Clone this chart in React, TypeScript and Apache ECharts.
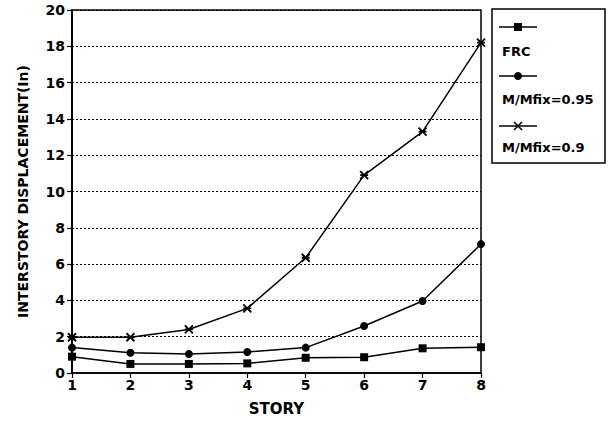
import React, { useEffect, useRef } from "react";
import * as echarts from "echarts";

const stories = [1, 2, 3, 4, 5, 6, 7, 8];
const frc = [0.9, 0.5, 0.5, 0.53, 0.84, 0.87, 1.36, 1.42];
const m095 = [1.4, 1.12, 1.05, 1.16, 1.4, 2.59, 3.97, 7.1];
const m09 = [1.97, 1.97, 2.4, 3.56, 6.35, 10.9, 13.3, 18.2];
const seriesNames = ["FRC", "M/Mfix=0.95", "M/Mfix=0.9"];
const yMin = 0;
const yMax = 20;
const yStep = 2;

const FONT = "DejaVu Sans";
const STAR = "path://M0,0L10,10M10,0L0,10M0,5L10,5";

export default function App() {
  const ref = useRef<HTMLDivElement>(null);
  useEffect(() => {
    if (!ref.current) return;
    const chart = echarts.init(ref.current, null, { renderer: "svg" });
    const pairs = (vals: number[]) => stories.map((s, i) => [s, vals[i]]);
    const lineStyle = { color: "#000", width: 1.5 };
    const legendX = 499;
    const legendX2 = 537;
    const mid = (legendX + legendX2) / 2;
    const textStyle = { fontFamily: FONT, fontWeight: "bold" as const, fontSize: 13, fill: "#000" };
    chart.setOption({
      animation: false,
      backgroundColor: "#fff",
      grid: {
        left: 72,
        right: 130,
        top: 10,
        bottom: 49,
        show: true,
        borderColor: "#000",
        borderWidth: 1.5,
      },
      xAxis: {
        type: "value",
        min: 1,
        max: 8,
        interval: 1,
        name: "STORY",
        nameLocation: "middle",
        nameGap: 28,
        nameTextStyle: { fontFamily: FONT, fontWeight: "bold", fontSize: 15, color: "#000" },
        axisLine: { show: true, lineStyle: { color: "#000", width: 1.5 } },
        axisTick: { show: true, length: 5, lineStyle: { color: "#000", width: 1.2 } },
        axisLabel: { fontFamily: FONT, fontWeight: "bold", fontSize: 14, color: "#000", margin: 5 },
        splitLine: { show: false },
      },
      yAxis: {
        type: "value",
        min: yMin,
        max: yMax,
        interval: yStep,
        name: "INTERSTORY DISPLACEMENT(In)",
        nameLocation: "middle",
        nameGap: 42,
        nameTextStyle: { fontFamily: FONT, fontWeight: "bold", fontSize: 14, color: "#000" },
        axisLine: { show: true, lineStyle: { color: "#000", width: 2 } },
        axisTick: { show: true, length: 5, lineStyle: { color: "#000", width: 1.2 } },
        axisLabel: { fontFamily: FONT, fontWeight: "bold", fontSize: 14, color: "#000", margin: 7 },
        splitLine: { show: true, lineStyle: { color: "#000", width: 1.2, type: [2, 2] } },
      },
      series: [
        {
          name: seriesNames[0],
          type: "line",
          data: pairs(frc),
          symbol: "rect",
          symbolSize: 8,
          lineStyle,
          itemStyle: { color: "#000" },
        },
        {
          name: seriesNames[1],
          type: "line",
          data: pairs(m095),
          symbol: "circle",
          symbolSize: 8,
          lineStyle,
          itemStyle: { color: "#000" },
        },
        {
          name: seriesNames[2],
          type: "line",
          data: pairs(m09),
          symbol: STAR,
          symbolSize: 8,
          lineStyle,
          itemStyle: { color: "#000", borderColor: "#000", borderWidth: 1.8 },
        },
      ],
      graphic: [
        {
          type: "rect",
          shape: { x: 492, y: 9, width: 113, height: 154 },
          style: { fill: "#fff", stroke: "#000", lineWidth: 1.5 },
        },
        { type: "line", shape: { x1: legendX, y1: 27, x2: legendX2, y2: 27 }, style: { stroke: "#000", lineWidth: 1.5 } },
        { type: "rect", shape: { x: mid - 4, y: 23, width: 8, height: 8 }, style: { fill: "#000" } },
        { type: "text", x: 502, y: 51, style: { ...textStyle, text: seriesNames[0], verticalAlign: "middle" } },
        { type: "line", shape: { x1: legendX, y1: 76, x2: legendX2, y2: 76 }, style: { stroke: "#000", lineWidth: 1.5 } },
        { type: "circle", shape: { cx: mid, cy: 76, r: 4 }, style: { fill: "#000" } },
        { type: "text", x: 502, y: 99, style: { ...textStyle, text: seriesNames[1], verticalAlign: "middle" } },
        { type: "line", shape: { x1: legendX, y1: 126, x2: legendX2, y2: 126 }, style: { stroke: "#000", lineWidth: 1.5 } },
        { type: "line", shape: { x1: mid - 4, y1: 122, x2: mid + 4, y2: 130 }, style: { stroke: "#000", lineWidth: 1.6 } },
        { type: "line", shape: { x1: mid + 4, y1: 122, x2: mid - 4, y2: 130 }, style: { stroke: "#000", lineWidth: 1.6 } },
        { type: "text", x: 502, y: 147, style: { ...textStyle, text: seriesNames[2], verticalAlign: "middle" } },
      ],
    });
    return () => chart.dispose();
  }, []);
  return (
    <div
      ref={ref}
      style={{ position: "fixed", left: 0, top: 0, width: 611, height: 422, background: "#fff" }}
    />
  );
}
